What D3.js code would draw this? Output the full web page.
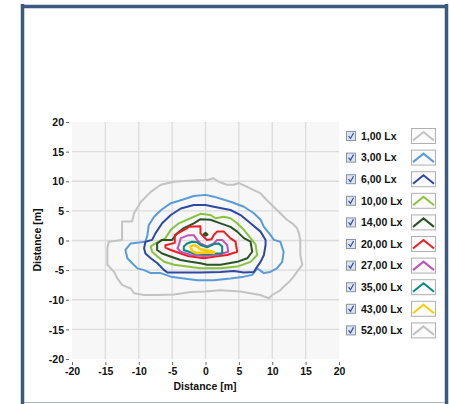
<!DOCTYPE html>
<html><head><meta charset="utf-8">
<script src="https://cdn.jsdelivr.net/npm/d3@7"></script>
<style>
html,body{margin:0;padding:0;background:#fff;}
text{font-family:"Liberation Sans",Arial,sans-serif;font-weight:bold;}
</style></head>
<body><svg id="c" width="450" height="404"></svg>
<script>
const levels = ["1,00 Lx","3,00 Lx","6,00 Lx","10,00 Lx","14,00 Lx","20,00 Lx","27,00 Lx","35,00 Lx","43,00 Lx","52,00 Lx"];
const colors = ["#c3c3c3","#5b9bd8","#2f49a3","#86c440","#2c5228","#ee1d25","#c053b6","#0a8a86","#ffcc00","#c3c3c3"];
const xTicks = [-20,-15,-10,-5,0,5,10,15,20];
const yTicks = [-20,-15,-10,-5,0,5,10,15,20];

const c1 = [[-12.5,0.9],[-12.5,3.2],[-11.0,3.2],[-10.7,4.6],[-9.7,6.5],[-8.2,8.2],[-6.7,9.4],[-4.7,9.9],[-2.7,10.1],[-0.8,10.2],[0.3,10.2],[1.2,10.5],[2.0,9.9],[3.2,9.4],[4.2,9.4],[5.0,9.7],[6.7,8.8],[8.2,8.0],[9.2,6.8],[10.2,5.7],[11.2,4.6],[12.2,3.5],[13.0,2.9],[13.7,2.1],[14.0,1.2],[14.2,0.1],[14.2,-2.4],[14.5,-4.1],[13.7,-5.3],[13.2,-6.1],[12.5,-7.0],[11.7,-7.8],[11.2,-8.4],[10.0,-9.2],[9.5,-9.75],[8.2,-9.2],[5.2,-8.6],[2.25,-8.4],[-0.1,-8.6],[-2.2,-8.7],[-4.7,-9.1],[-7.2,-9.2],[-9.2,-9.2],[-10.7,-8.9],[-11.2,-8.1],[-12.5,-7.5],[-13.2,-6.4],[-13.7,-5.3],[-14.7,-4.1],[-14.7,-1.3],[-14.5,-0.2],[-12.5,0.1]];
const c3 = [[-8.7,0.9],[-8.5,2.6],[-7.7,4.0],[-6.7,5.1],[-5.2,6.3],[-3.7,6.8],[-1.75,7.5],[0,7.7],[1.25,7.4],[3.75,6.55],[5.75,5.7],[7.25,4.6],[8.25,3.5],[8.75,2.3],[9.75,0.9],[10.25,0.1],[11.2,-0.2],[11.7,-1.9],[11.5,-3.6],[10.7,-4.7],[9.7,-5.3],[8.75,-5.5],[7.75,-4.7],[7.0,-5.8],[5.75,-6.1],[3.75,-6.4],[1.25,-6.7],[-1.25,-6.7],[-3.25,-6.4],[-5.2,-6.1],[-6.7,-5.5],[-8.2,-5.5],[-9.2,-5.0],[-10.2,-4.7],[-11.2,-3.6],[-11.7,-3.0],[-12.0,-1.6],[-11.2,-0.5],[-9.0,-0.2]];
const c6 = [[-7.5,1.2],[-6.5,2.9],[-5.2,4.3],[-3.7,5.4],[-1.75,6.0],[0,6.0],[1.25,5.7],[3.75,5.15],[5.25,4.3],[6.75,2.9],[8.25,1.5],[9.0,0.1],[9.0,-0.76],[8.75,-2.45],[8.25,-3.6],[7.75,-4.4],[7.25,-5.3],[5.75,-5.4],[4.25,-5.15],[2.25,-5.3],[-0.75,-5.4],[-3.25,-5.4],[-5.7,-5.4],[-6.2,-5.0],[-7.2,-3.85],[-8.2,-3.0],[-9.0,-2.2],[-9.2,-1.3],[-9.0,-0.2],[-8.0,0.1]];
const c10 = [[-6.0,0.4],[-5.2,1.8],[-4.0,2.9],[-2.25,3.75],[-0.75,4.5],[0.75,4.3],[1.5,3.75],[2.75,4.0],[3.75,3.75],[4.75,2.9],[5.75,1.8],[6.75,0.4],[7.5,-0.7],[7.75,-2.45],[6.75,-3.6],[4.75,-4.4],[2.25,-4.7],[-0.75,-4.7],[-2.75,-4.4],[-4.7,-4.1],[-6.2,-3.6],[-7.2,-2.7],[-8.0,-1.9],[-8.2,-1.0],[-7.5,-0.5]];
const c14 = [[-5.0,0.1],[-4.25,1.2],[-3.25,2.1],[-1.75,2.9],[-0.75,3.6],[0.75,3.5],[2.25,2.9],[3.75,2.3],[4.75,1.5],[5.75,0.4],[6.75,-0.2],[7.0,-1.9],[6.25,-3.0],[4.75,-3.6],[2.25,-4.1],[0.25,-4.1],[-0.75,-3.85],[-2.25,-3.6],[-3.75,-3.3],[-5.25,-2.7],[-6.5,-2.2],[-7.25,-1.6],[-7.25,-0.5],[-6.5,0.1]];
const c14b = [[-0.3,1.0],[0,1.3],[0.3,1.0],[0,0.8]];
const c20 = [[-6.0,-0.8],[-4.6,-0.4],[-4.6,0.9],[-3.7,1.5],[-2.7,2.1],[-2.5,2.3],[-0.75,2.4],[-0.75,1.2],[0.2,0.1],[0.9,0.2],[1.3,1.0],[1.75,1.5],[2.75,1.5],[3.7,0.4],[4.5,-0.2],[4.75,-1.9],[3.25,-2.45],[1.5,-2.7],[-0.25,-3.0],[-2.7,-2.6],[-3.7,-2.2],[-5.2,-1.6],[-6.0,-1.2]];
const c27 = [[-4.0,-0.8],[-3.7,0.4],[-2.5,0.9],[-1.75,0.9],[-1.25,0.1],[-0.75,-0.5],[0.25,-1.0],[1.25,-0.5],[1.75,0.1],[2.5,0.1],[3.25,-0.76],[3.4,-1.9],[1.75,-2.45],[-0.25,-2.6],[-2.2,-2.45],[-3.7,-1.9],[-4.2,-1.3]];
const c35 = [[-3.25,-1.0],[-2.75,-0.5],[-2.0,-0.2],[-1.25,-0.3],[-0.75,-0.76],[0.25,-1.15],[1.25,-0.6],[2.0,-0.5],[2.5,-1.0],[2.5,-2.2],[1.75,-2.2],[0.25,-2.3],[-1.75,-2.2],[-3.25,-1.6]];
const c43 = [[-2.25,-1.0],[-1.75,-0.76],[-1.25,-1.0],[-0.75,-1.5],[0.25,-1.7],[1.25,-1.9],[1.25,-2.1],[0.25,-2.0],[-1.25,-2.1],[-2.0,-1.8]];
const c52 = [];
const contours = [[c1],[c3],[c6],[c10],[c14,c14b],[c20],[c27],[c35],[c43],[c52]];

const svg = d3.select("#c");
// frame
svg.append("line").attr("x1",22.5).attr("y1",4).attr("x2",22.5).attr("y2",404).attr("stroke","#3a5a80").attr("stroke-width",3.5);
svg.append("line").attr("x1",446.5).attr("y1",4).attr("x2",446.5).attr("y2",404).attr("stroke","#3a5a80").attr("stroke-width",3.5);
svg.append("line").attr("x1",21).attr("y1",6.5).attr("x2",448).attr("y2",6.5).attr("stroke","#3a5a80").attr("stroke-width",3.5);
svg.append("line").attr("x1",24).attr("y1",402.5).attr("x2",445).attr("y2",402.5).attr("stroke","#a8b4c4").attr("stroke-width",1);

const x = d3.scaleLinear().domain([-20,20]).range([72,339]);
const y = d3.scaleLinear().domain([-20,20]).range([359,122]);

svg.append("rect").attr("x",72).attr("y",122).attr("width",267).attr("height",237).attr("fill","#f7f7f7");
const g = svg.append("g");
xTicks.slice(1,-1).forEach(t=>{
  g.append("line").attr("x1",x(t)).attr("x2",x(t)).attr("y1",122).attr("y2",359).attr("stroke","#dcdcdc").attr("stroke-width",1.3);
});
yTicks.slice(1,-1).forEach(t=>{
  g.append("line").attr("y1",y(t)).attr("y2",y(t)).attr("x1",72).attr("x2",339).attr("stroke","#dcdcdc").attr("stroke-width",1.3);
});

const fmt = d => String(d);
const xa = svg.append("g").attr("transform","translate(0,362)")
  .call(d3.axisBottom(x).tickValues(xTicks).tickSize(3).tickPadding(3).tickFormat(fmt));
const ya = svg.append("g").attr("transform","translate(69,0)")
  .call(d3.axisLeft(y).tickValues(yTicks).tickSize(3).tickPadding(2).tickFormat(fmt));
[xa,ya].forEach(a=>{
  a.select(".domain").remove();
  a.selectAll("line").attr("stroke","#666");
  a.selectAll("text").attr("font-size",10.5).attr("fill","#111").style("font-family","'Liberation Sans',Arial,sans-serif").style("font-weight","bold");
});
ya.selectAll("text").attr("dy","0.35em");

svg.append("text").attr("x",205).attr("y",390).attr("text-anchor","middle").attr("font-size",10.5).attr("fill","#111").text("Distance [m]");
svg.append("text").attr("transform","translate(41,240) rotate(-90)").attr("text-anchor","middle").attr("font-size",10.5).attr("fill","#111").text("Distance [m]");

const line = d3.line().x(d=>x(d[0])).y(d=>y(d[1])).curve(d3.curveLinearClosed);
contours.forEach((set,i)=>{
  set.forEach(pts=>{
    if(!pts.length) return;
    svg.append("path").attr("d",line(pts)).attr("fill","none").attr("stroke",colors[i])
      .attr("stroke-width", i===8?2.6:2).attr("stroke-linejoin","round");
  });
});

// legend
const lg = svg.append("g");
levels.forEach((lab,i)=>{
  const cy = 136 + i*21.6;
  const r = lg.append("g");
  r.append("rect").attr("x",346.5).attr("y",cy-4.5).attr("width",9).attr("height",9).attr("fill","#dfe3ea").attr("stroke","#8a94a3").attr("stroke-width",1);
  r.append("path").attr("d",`M${348.5},${cy} L${350.5},${cy+2.5} L${353.5},${cy-3}`).attr("fill","none").attr("stroke","#2b4fbf").attr("stroke-width",1.2);
  r.append("text").attr("x",361).attr("y",cy+3.8).attr("font-size",10.5).attr("fill","#111").text(lab);
  r.append("rect").attr("x",411.5).attr("y",cy-7.5).attr("width",24).attr("height",15).attr("fill","#fbfbfb").attr("stroke","#b0b0b0").attr("stroke-width",1);
  r.append("path").attr("d",`M${413},${cy+4.5} L${423.5},${cy-4} L${434},${cy+4.5}`).attr("fill","none").attr("stroke",colors[i]).attr("stroke-width",2);
});
</script></body></html>
